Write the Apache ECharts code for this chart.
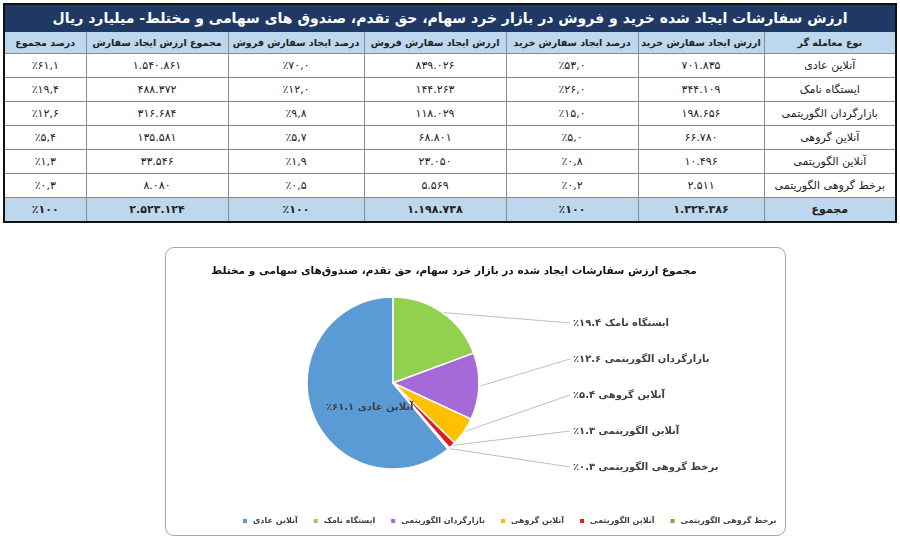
<!DOCTYPE html>
<html>
<head>
<meta charset="utf-8">
<script src="https://cdn.jsdelivr.net/npm/echarts@6/dist/echarts.min.js"></script>
<style>
    body { margin: 0; width: 900px; height: 537px; background: #fff; position: relative; overflow: hidden; font-family: "DejaVu Sans", sans-serif; }
    #tbl { position: absolute; left: 3px; top: 3px; width: 892px; border-collapse: collapse; border: 2px solid #111; table-layout: fixed; direction: rtl; }
    #tbl td, #tbl th { border: 1px solid #8c8c8c; text-align: center; padding: 0; font-size: 11px; color: #222; height: 23px; white-space: nowrap; overflow: hidden; }
    #tbl .title th { background: #1F3864; color: #fff; font-size: 14px; height: 26px; border-color: #1F3864; }
    #tbl .head th { background: #BDD7EE; font-size: 9.5px; height: 21px; }
    #tbl .total td { background: #BDD7EE; font-weight: bold; }
    #box { position: absolute; left: 165px; top: 247px; width: 619px; height: 287px; border: 1px solid #A6A6A6; border-radius: 9px; }
</style>
</head>
<body>
<table id="tbl"></table>
<div id="box"></div>
<script>
// داده ها
const traders = ['آنلاین عادی', 'ایستگاه نامک', 'بازارگردان الگوریتمی', 'آنلاین گروهی', 'آنلاین الگوریتمی', 'برخط گروهی الگوریتمی'];
const buyValue = [701835, 344109, 198656, 66780, 10496, 2511];
const buyPct = [53.0, 26.0, 15.0, 5.0, 0.8, 0.2];
const sellValue = [839026, 144263, 118029, 68801, 23050, 5569];
const sellPct = [70.0, 12.0, 9.8, 5.7, 1.9, 0.5];
const totalValue = [1540861, 488372, 316684, 135581, 33546, 8080];
const totalPct = [61.1, 19.4, 12.6, 5.4, 1.3, 0.3];
const totalRow = [1324386, 100, 1198738, 100, 2523124, 100];
const totalLabel = 'مجموع';
const headers = ['نوع معامله گر', 'ارزش ایجاد سفارش خرید', 'درصد ایجاد سفارش خرید', 'ارزش ایجاد سفارش فروش', 'درصد ایجاد سفارش فروش', 'مجموع ارزش ایجاد سفارش', 'درصد مجموع'];
const tableTitle = 'ارزش سفارشات ایجاد شده خرید و فروش در بازار خرد سهام، حق تقدم، صندوق های سهامی و مختلط- میلیارد ریال';
const chartTitle = 'مجموع ارزش سفارشات ایجاد شده در بازار خرد سهام، حق تقدم، صندوق‌های سهامی و مختلط';
const colors = ['#5B9BD5', '#92D050', '#A569D8', '#FFC000', '#E31B23', '#70AD47'];

function faDigits(s) {
    return String(s).replace(/[0-9]/g, d => '۰۱۲۳۴۵۶۷۸۹'[d]);
}
function faNum(n) {
    return faDigits(String(n).replace(/\B(?=(\d{3})+(?!\d))/g, '.'));
}
function faPct(p, dec) {
    return '٪' + faDigits(p.toFixed(dec).replace('.', ','));
}

// جدول
var colW = [132, 126, 132, 142, 136, 142, 82];
var html = '<colgroup>' + colW.map(w => '<col style="width:' + w + 'px">').join('') + '</colgroup>';
html += '<tr class="title"><th colspan="7">' + tableTitle + '</th></tr>';
html += '<tr class="head">' + headers.map(h => '<th>' + h + '</th>').join('') + '</tr>';
for (var i = 0; i < traders.length; i++) {
    html += '<tr><td>' + traders[i] + '</td><td>' + faNum(buyValue[i]) + '</td><td>' + faPct(buyPct[i], 1) +
        '</td><td>' + faNum(sellValue[i]) + '</td><td>' + faPct(sellPct[i], 1) +
        '</td><td>' + faNum(totalValue[i]) + '</td><td>' + faPct(totalPct[i], 1) + '</td></tr>';
}
html += '<tr class="total"><td>' + totalLabel + '</td>' + totalRow.map((v, k) => '<td>' + (k % 2 ? faPct(v, 0) : faNum(v)) + '</td>').join('') + '</tr>';
document.getElementById('tbl').innerHTML = html;

// نمودار دایره ای
var myChart = echarts.init(document.getElementById('box'));
var sum = totalValue.reduce((a, b) => a + b, 0);
var labelX = 407, labelTop = 75, labelStep = 36;

var option = {
    color: colors,
    title: {
        text: chartTitle,
        left: 283,
        top: 13,
        textAlign: 'center',
        textStyle: { fontFamily: 'DejaVu Sans', fontSize: 10.5, fontWeight: 'bold', color: '#111' }
    },
    legend: {
        data: traders,
        left: 70,
        top: 264,
        width: 540,
        icon: 'rect',
        itemWidth: 6,
        itemHeight: 6,
        itemGap: 14,
        textStyle: { fontFamily: 'DejaVu Sans', fontSize: 8, fontWeight: 'bold', color: '#404040' }
    },
    series: [{
        type: 'pie',
        radius: 86,
        center: [227, 135],
        clockwise: true,
        startAngle: 90 - 360 * (1 - totalValue[0] / sum),
        animation: false,
        itemStyle: { borderColor: '#fff', borderWidth: 1.5 },
        label: {
            fontFamily: 'DejaVu Sans',
            fontSize: 10,
            fontWeight: 'bold',
            color: '#404040',
            formatter: p => '٪' + faDigits(totalPct[p.dataIndex].toFixed(1)) + ' ' + p.name
        },
        labelLine: { length: 10, length2: 0, lineStyle: { color: '#BFBFBF', width: 1 } },
        labelLayout: function (params) {
            if (params.dataIndex === 0) return { dx: 20, dy: 9 };
            var y = labelTop + (params.dataIndex - 1) * labelStep;
            var res = { x: labelX, y: y, align: 'left', verticalAlign: 'middle' };
            if (params.labelLinePoints) {
                res.labelLinePoints = [params.labelLinePoints[0], [labelX - 3, y], [labelX - 3, y]];
            }
            return res;
        },
        data: traders.map((name, k) => k === 0
            ? { name: name, value: totalValue[k], label: { position: 'inside' }, labelLine: { show: false } }
            : { name: name, value: totalValue[k] })
    }]
};
myChart.setOption(option);
</script>
</body>
</html>
